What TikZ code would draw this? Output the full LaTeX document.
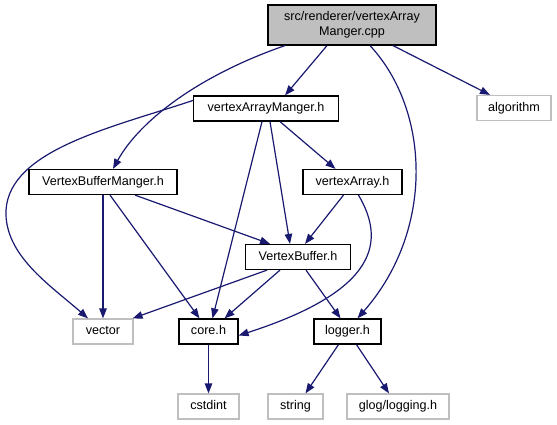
\documentclass[tikz,border=0pt]{standalone}
\usepackage{fontspec}
\setmainfont{Liberation Sans}
\usetikzlibrary{arrows.meta}
\definecolor{edgecol}{HTML}{191970}
\definecolor{graybd}{HTML}{BFBFBF}
\begin{document}
\begin{tikzpicture}[x=1pt,y=-1pt,
  box/.style={draw=black,line width=1.2pt,fill=white,inner sep=0pt,minimum height=25pt,font=\fontsize{12.6}{15}\selectfont,text height=9.2pt,text depth=2.6pt},
  extbox/.style={box,draw=graybd},
  edge/.style={draw=edgecol,line width=1.2pt,-{Triangle[length=10pt,width=7.5pt]}}]
\useasboundingbox (0,0) rectangle (557,425);
\node[box,fill=graybd,minimum width=168pt,minimum height=40pt,align=center,text height=,text depth=] (root) at (352,25) {src/renderer/vertexArray\\Manger.cpp};
\node[box,minimum width=145pt] (vam) at (266,108.5) {vertexArrayManger.h};
\node[extbox,minimum width=74pt] (alg) at (514,108) {algorithm};
\node[box,minimum width=148pt] (vbm) at (103,182) {VertexBufferManger.h};
\node[box,minimum width=99pt] (va) at (352.5,182) {vertexArray.h};
\node[box,minimum width=105pt] (vb) at (298,257) {VertexBuffer.h};
\node[extbox,minimum width=60pt] (vec) at (103,331.5) {vector};
\node[box,minimum width=59pt] (core) at (208.5,331.5) {core.h};
\node[box,minimum width=67pt] (log) at (347.5,331.5) {logger.h};
\node[extbox,minimum width=61pt] (cst) at (208.5,406.5) {cstdint};
\node[extbox,minimum width=55pt] (str) at (295.5,406.5) {string};
\node[extbox,minimum width=102pt] (glog) at (398,406.5) {glog/logging.h};

\draw[edge] ([xshift=-25pt]root.south) -- ([xshift=19pt]vam.north);
\draw[edge] ([xshift=-67pt]root.south) .. controls (200,75) and (140,120) .. ([xshift=10pt]vbm.north);
\draw[edge] ([xshift=41pt]root.south) -- ([xshift=-24pt]alg.north);
\draw[edge] ([xshift=18pt]root.south) .. controls (430,110) and (435,230) .. ([xshift=10pt]log.north);
\draw[edge] ([yshift=8pt]vam.west) .. controls (110,128) and (10,150) .. (6,210) .. controls (4,255) and (50,285) .. ([xshift=-15pt]vec.north);
\draw[edge] ([xshift=-4pt]vam.south) -- ([xshift=4pt]core.north);
\draw[edge] ([xshift=4pt]vam.south) -- ([xshift=-8pt]vb.north);
\draw[edge] ([xshift=14pt]vam.south) -- ([xshift=-17pt]va.north);
\draw[edge] (vbm.south) -- (vec.north);
\draw[edge] ([xshift=7pt]vbm.south) -- ([xshift=-9pt]core.north);
\draw[edge] ([xshift=32pt]vbm.south) -- ([xshift=-28pt]vb.north);
\draw[edge] ([xshift=-9pt]va.south) -- ([xshift=7pt]vb.north);
\draw[edge] ([xshift=6pt]va.south) .. controls (385,240) and (380,290) .. ([yshift=-4pt]core.east);
\draw[edge] ([xshift=-31pt]vb.south) -- ([xshift=-1pt]vec.north east);
\draw[edge] ([xshift=-18pt]vb.south) -- ([xshift=16pt]core.north);
\draw[edge] ([xshift=8pt]vb.south) -- ([xshift=-7pt]log.north);
\draw[edge] (core.south) -- (cst.north);
\draw[edge] ([xshift=-9pt]log.south) -- ([xshift=10pt]str.north);
\draw[edge] ([xshift=9pt]log.south) -- ([xshift=-9pt]glog.north);
\end{tikzpicture}
\end{document}
